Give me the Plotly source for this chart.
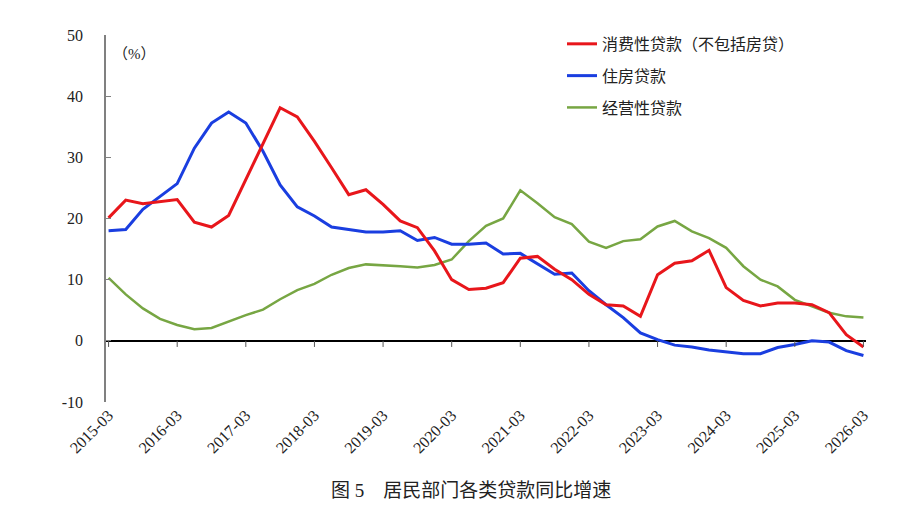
import plotly.graph_objects as go

# quarterly, 2015-03 .. 2026-03
quarters = [f"{y}-{m:02d}" for y in range(2015, 2027) for m in (3, 6, 9, 12)][:45]
tick_labels = [f"{y}-03" for y in range(2015, 2027)]
y_ticks = [50, 40, 30, 20, 10, 0, -10]

consumer = [20.1, 23.0, 22.4, 22.7, 23.1, 19.4, 18.6, 20.5, 26.4, 32.1,
            38.1, 36.6, 32.6, 28.3, 23.9, 24.7, 22.3, 19.6, 18.5, 14.7,
            10.0, 8.4, 8.6, 9.5, 13.5, 13.8, 11.7, 10.0, 7.6, 5.9,
            5.7, 4.0, 10.8, 12.7, 13.1, 14.8, 8.7, 6.6, 5.7, 6.2,
            6.2, 5.9, 4.6, 1.0, -1.0]
housing = [18.0, 18.2, 21.5, 23.6, 25.7, 31.5, 35.6, 37.4, 35.6, 31.0,
           25.5, 21.9, 20.4, 18.6, 18.2, 17.8, 17.8, 18.0, 16.4, 16.9,
           15.8, 15.8, 16.0, 14.2, 14.3, 12.6, 10.9, 11.1, 8.2, 5.9,
           3.8, 1.3, 0.2, -0.7, -1.0, -1.5, -1.8, -2.1, -2.1, -1.1,
           -0.6, 0.0, -0.2, -1.6, -2.4]
business = [10.3, 7.6, 5.3, 3.6, 2.6, 1.9, 2.1, 3.2, 4.2, 5.1,
            6.8, 8.3, 9.3, 10.8, 11.9, 12.5, 12.4, 12.2, 12.0, 12.4,
            13.3, 16.3, 18.8, 20.0, 24.6, 22.5, 20.2, 19.1, 16.2, 15.2,
            16.3, 16.6, 18.7, 19.6, 17.9, 16.8, 15.2, 12.2, 10.0, 8.9,
            6.7, 5.7, 4.6, 4.0, 3.8]

x_idx = list(range(len(quarters)))
tick_idx = [quarters.index(t) for t in tick_labels]

serif = "Liberation Serif"
cjk = "Liberation Serif, Noto Sans CJK SC"

fig = go.Figure()

fig.add_trace(go.Scatter(x=x_idx, y=business, name="经营性贷款", mode="lines",
                         line=dict(color="#77a643", width=2.5),
                         legendgroup="c", legendrank=3))
fig.add_trace(go.Scatter(x=x_idx, y=housing, name="住房贷款", mode="lines",
                         line=dict(color="#1a3ee0", width=3),
                         legendgroup="b", legendrank=2))
fig.add_trace(go.Scatter(x=x_idx, y=consumer, name="消费性贷款（不包括房贷）", mode="lines",
                         line=dict(color="#e8161b", width=3),
                         legendgroup="a", legendrank=1))

# small tick marks hanging under the zero line
for k in tick_idx:
    fig.add_shape(type="line", xref="x", yref="y", x0=k, x1=k, y0=0, y1=-1,
                  line=dict(color="#555555", width=1))

fig.update_xaxes(range=[-0.15, 44.15], tickvals=tick_idx, ticktext=tick_labels,
                 tickangle=-45, showgrid=False, zeroline=False, showline=False,
                 ticks="", tickfont=dict(family=serif, size=16, color="#222"))
fig.update_yaxes(range=[-10, 50], tickvals=y_ticks, ticktext=[str(v) for v in y_ticks],
                 showgrid=False,
                 showline=True, linecolor="#808080", linewidth=1.5,
                 ticks="inside", ticklen=5, tickcolor="#808080",
                 zeroline=True, zerolinecolor="#000000", zerolinewidth=1.5,
                 ticklabelstandoff=18,
                 tickfont=dict(family=serif, size=16, color="#222"))

fig.add_annotation(text="（%）", xref="paper", yref="paper", x=0.006, y=0.948,
                   xanchor="left", yanchor="middle", showarrow=False,
                   font=dict(family=cjk, size=15, color="#222"))
fig.add_annotation(text="图 5　居民部门各类贷款同比增速", xref="paper", yref="paper",
                   x=0.48, y=-0.275, xanchor="center", yanchor="bottom", showarrow=False,
                   font=dict(family=cjk, size=19, color="#222"))

fig.update_layout(
    width=901, height=505,
    margin=dict(l=98, r=43, t=27, b=111),
    plot_bgcolor="white", paper_bgcolor="white",
    showlegend=True,
    legend=dict(x=0.6, y=1.022, xanchor="left", yanchor="top",
                bgcolor="rgba(0,0,0,0)", tracegroupgap=8,
                font=dict(family=cjk, size=16, color="#222")),
)

fig.write_html("out.html")
